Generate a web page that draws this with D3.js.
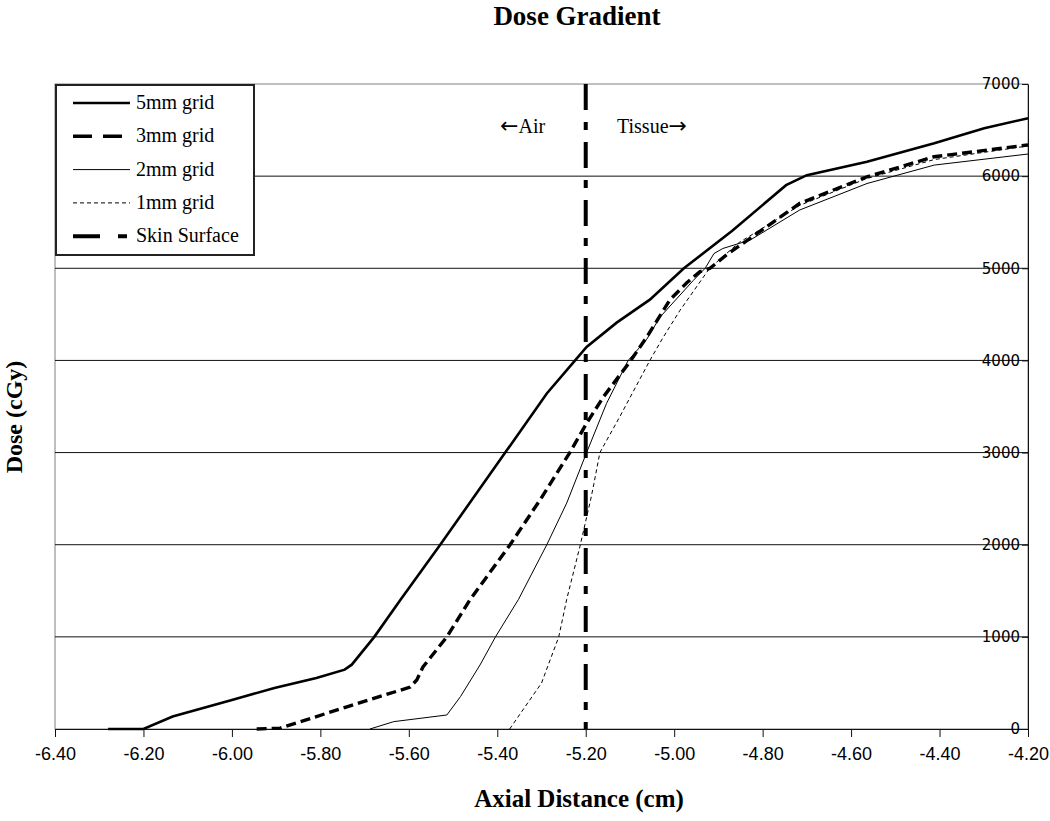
<!DOCTYPE html>
<head>
  <title>Dose Gradient</title>
  <meta charset="utf-8">
  <script type="text/javascript" src="https://d3js.org/d3.v7.min.js"></script>
  <style>
    body { margin: 0; background: white; }
    text { fill: black; }
    .serif { font-family: "Liberation Serif", "Times New Roman", serif; }
    .arrow { font-family: "DejaVu Sans", sans-serif; font-size: 22px; }
    .xtick { font: 18px "Liberation Sans", Arial, sans-serif; }
    .ytick { font: 15px "DejaVu Sans", Verdana, sans-serif; }
  </style>
</head>
<body>
<script type="text/javascript">
// [axial distance (cm), dose (cGy)]
const grid5mm = [[-6.28,0],[-6.20,0],[-6.134,135],[-6.0,316],[-5.904,444],[-5.809,553],[-5.745,644],[-5.729,698],
  [-5.678,1000],[-5.618,1407],[-5.529,2000],[-5.382,3000],[-5.288,3641],[-5.224,4000],[-5.198,4146],[-5.13,4410],
  [-5.055,4660],[-4.978,5000],[-4.868,5410],[-4.747,5902],[-4.70,6011],[-4.564,6157],[-4.412,6357],[-4.299,6521],[-4.20,6628]]
const grid3mm = [[-5.944,0],[-5.891,10],[-5.74,240],[-5.597,455],[-5.582,532],[-5.568,673],[-5.514,1000],[-5.462,1400],
  [-5.371,2000],[-5.303,2488],[-5.236,3000],[-5.198,3317],[-5.16,3605],[-5.098,4000],[-5.062,4254],[-5.01,4656],
  [-4.972,4840],[-4.942,4963],[-4.919,5000],[-4.882,5144],[-4.791,5451],[-4.716,5705],[-4.564,5993],[-4.412,6211],[-4.20,6339]]
const grid2mm = [[-5.688,0],[-5.634,80],[-5.514,152],[-5.483,353],[-5.439,695],[-5.404,1000],[-5.352,1407],[-5.288,2000],
  [-5.243,2452],[-5.198,3000],[-5.153,3533],[-5.104,4000],[-5.062,4230],[-5.032,4470],[-4.957,4867],[-4.93,5000],
  [-4.91,5160],[-4.89,5215],[-4.828,5307],[-4.716,5633],[-4.564,5920],[-4.412,6120],[-4.20,6240]]
const grid1mm = [[-5.372,0],[-5.30,498],[-5.261,1000],[-5.243,1407],[-5.213,1984],[-5.189,2486],[-5.182,2650],[-5.168,3000],
  [-5.123,3389],[-5.055,4000],[-5.025,4250],[-4.987,4542],[-4.92,5000],[-4.853,5280],[-4.716,5683],[-4.564,5975],[-4.412,6180],[-4.20,6328]]
const skinSurface = [[-5.20,7000],[-5.20,0]]

const seriesNames = ['5mm grid', '3mm grid', '2mm grid', '1mm grid', 'Skin Surface']
const xTicks = [-6.4,-6.2,-6.0,-5.8,-5.6,-5.4,-5.2,-5.0,-4.8,-4.6,-4.4,-4.2]
const yTicks = [0,1000,2000,3000,4000,5000,6000,7000]

const styles = [
  { width: 2.6, dash: null },
  { width: 3.4, dash: '10,5' },
  { width: 1, dash: null },
  { width: 1, dash: '4,3' },
  { width: 4, dash: '26,12,8,12' }
]

const W = 1050, H = 821
const plotL = 55, plotR = 1028, plotT = 84, plotB = 729

const svg = d3.select('body').append('svg').attr('width', W).attr('height', H)

const x = d3.scaleLinear().domain([-6.4, -4.2]).range([plotL, plotR])
const y = d3.scaleLinear().domain([0, 7000]).range([plotB, plotT])

// plot border
svg.append('rect')
  .attr('x', plotL).attr('y', plotT).attr('width', plotR - plotL).attr('height', plotB - plotT)
  .attr('fill', 'none').attr('stroke', '#808080')

// gridlines
svg.append('g').selectAll('line')
  .data(yTicks.filter(d => d > 0 && d < 7000))
  .enter().append('line')
  .attr('x1', plotL).attr('x2', plotR)
  .attr('y1', d => y(d)).attr('y2', d => y(d))
  .attr('stroke', '#111')

// x axis
const xAxis = svg.append('g').attr('transform', `translate(0,${plotB})`)
  .call(d3.axisBottom(x).tickValues(xTicks).tickSize(8).tickSizeOuter(0).tickPadding(10))
xAxis.select('.domain').attr('stroke', '#111')
xAxis.selectAll('.tick line').attr('stroke', '#111')
xAxis.selectAll('text').attr('class', 'xtick')
  .text(d => d3.format('.2f')(d).replace('\u2212', '-'))

// y axis on the right, labels inside
const yAxis = svg.append('g').attr('transform', `translate(${plotR},0)`)
  .call(d3.axisLeft(y).tickValues(yTicks).tickFormat(d3.format('d')).tickSize(6).tickSizeOuter(0).tickPadding(2))
yAxis.select('.domain').attr('stroke', '#111')
yAxis.selectAll('.tick line').attr('stroke', '#111')
yAxis.selectAll('text').attr('class', 'ytick')

// curves
const line = d3.line().x(d => x(d[0])).y(d => y(d[1]))
const allSeries = [grid5mm, grid3mm, grid2mm, grid1mm, skinSurface]
svg.append('g').selectAll('path')
  .data(allSeries)
  .enter().append('path')
  .attr('d', line)
  .attr('fill', 'none')
  .attr('stroke', 'black')
  .attr('stroke-width', (d, i) => styles[i].width)
  .attr('stroke-dasharray', (d, i) => styles[i].dash)

// air / tissue labels
const airLabel = svg.append('text').attr('class', 'serif').attr('x', 500).attr('y', 133)
  .style('font-size', '20px')
airLabel.append('tspan').attr('class', 'arrow').text('\u2190')
airLabel.append('tspan').text('Air')
const tissueLabel = svg.append('text').attr('class', 'serif').attr('x', 617).attr('y', 133)
  .style('font-size', '20px')
tissueLabel.append('tspan').text('Tissue')
tissueLabel.append('tspan').attr('class', 'arrow').text('\u2192')

// legend
const legend = svg.append('g')
legend.append('rect').attr('x', 56).attr('y', 85).attr('width', 198).attr('height', 170)
  .attr('fill', 'white').attr('stroke', '#222').attr('stroke-width', 2)
const items = legend.selectAll('g.item').data(seriesNames).enter().append('g')
  .attr('transform', (d, i) => `translate(0,${103 + i * 33.3})`)
items.append('line').attr('x1', 73).attr('x2', 130).attr('y1', 0).attr('y2', 0)
  .attr('stroke', 'black')
  .attr('stroke-width', (d, i) => styles[i].width)
  .attr('stroke-dasharray', (d, i) => i === 1 ? '19,11' : i === 3 ? '4,3' : i === 4 ? '27,18,9,20' : null)
items.append('text').attr('class', 'serif').attr('x', 136).attr('y', 6)
  .style('font-size', '20px').text(d => d)

// titles
svg.append('text').attr('class', 'serif').attr('x', 577).attr('y', 25)
  .attr('text-anchor', 'middle').style('font-size', '27px').style('font-weight', 'bold')
  .text('Dose Gradient')
svg.append('text').attr('class', 'serif').attr('x', 579).attr('y', 807)
  .attr('text-anchor', 'middle').style('font-size', '25px').style('font-weight', 'bold')
  .text('Axial Distance (cm)')
svg.append('text').attr('class', 'serif')
  .attr('transform', 'translate(22,417) rotate(-90)')
  .attr('text-anchor', 'middle').style('font-size', '24px').style('font-weight', 'bold')
  .text('Dose (cGy)')
</script>
</body>
